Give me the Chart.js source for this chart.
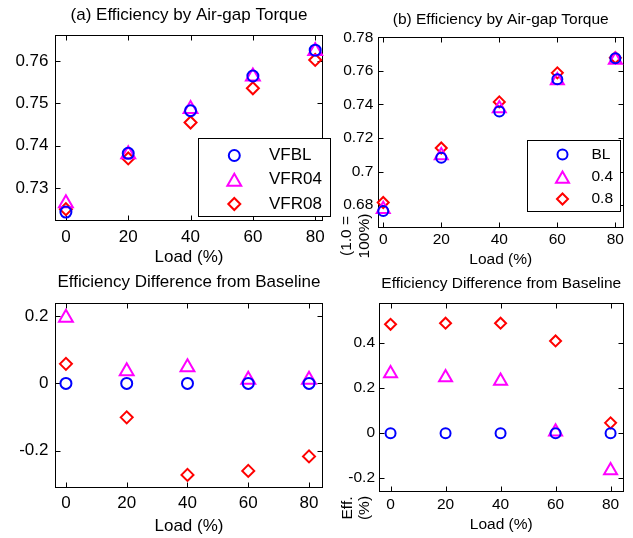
<!DOCTYPE html>
<html><head><meta charset="utf-8">
<script src="https://cdn.jsdelivr.net/npm/chart.js@4/dist/chart.umd.min.js"></script>
<style>
html,body{margin:0;padding:0;background:#fff;width:633px;height:538px;overflow:hidden}
canvas{position:absolute}
</style></head><body>
<canvas id="cA" width="333" height="270" style="left:0px;top:0px"></canvas>
<canvas id="cB" width="303" height="270" style="left:330px;top:0px"></canvas>
<canvas id="cC" width="333" height="268" style="left:0px;top:270px"></canvas>
<canvas id="cD" width="303" height="268" style="left:330px;top:270px"></canvas>
<script>
// ---- data ----
const loads = [0, 20, 40, 60, 80];
const xTicks = [0, 20, 40, 60, 80];
const xLabel = 'Load (%)';

const titleA = '(a) Efficiency by Air-gap Torque';
const namesA = ['VFBL', 'VFR04', 'VFR08'];
const effA_VFBL  = [0.7243, 0.7382, 0.7483, 0.7565, 0.7626];
const effA_VFR04 = [0.7264, 0.7380, 0.7487, 0.7564, 0.7624];
const effA_VFR08 = [0.7250, 0.7370, 0.7455, 0.7536, 0.7603];
const yTicksA = [0.73, 0.74, 0.75, 0.76];

const titleB = '(b) Efficiency by Air-gap Torque';
const namesB = ['BL', '0.4', '0.8'];
const effB_BL  = [0.6765, 0.7082, 0.7357, 0.7550, 0.7675];
const effB_04  = [0.6775, 0.7095, 0.7375, 0.7543, 0.7665];
const effB_08  = [0.6815, 0.7140, 0.7415, 0.7588, 0.7678];
const yTicksB = [0.68, 0.70, 0.72, 0.74, 0.76, 0.78];
const yLabelB = ['(1.0 =', '100%)'];

const titleC = 'Efficiency Difference from Baseline';
const diffC_VFBL  = [0, 0, 0, 0, 0];
const diffC_VFR04 = [0.195, 0.036, 0.048, 0.011, 0.011];
const diffC_VFR08 = [0.058, -0.101, -0.272, -0.260, -0.217];
const yTicksC = [-0.2, 0, 0.2];

const titleD = 'Efficiency Difference from Baseline';
const diffD_BL = [0, 0, 0, 0, 0];
const diffD_04 = [0.265, 0.248, 0.232, 0.006, -0.166];
const diffD_08 = [0.484, 0.489, 0.489, 0.410, 0.046];
const yTicksD = [-0.2, 0, 0.2, 0.4];
const yLabelD = ['Eff.', '(%)'];

const colors = ['#0000ff', '#ff00ff', '#ff0000'];
const styles = ['circle', 'triangle', 'rectRot'];

// ---- helpers ----
Chart.defaults.font.family = "'Liberation Sans', Arial, sans-serif";
Chart.defaults.color = '#000';
const fmt = v => String(parseFloat(Number(v).toFixed(4)));

function drawMarker(ctx, style, x, y, r) {
  ctx.beginPath();
  if (style === 'circle') {
    ctx.arc(x, y, r, 0, Math.PI * 2);
  } else if (style === 'triangle') {
    // keep bbox centred on y
    const cy = y + r / 4;
    for (let i = 0; i < 3; i++) {
      const a = i * 2 * Math.PI / 3;
      const px = x + Math.sin(a) * r, py = cy - Math.cos(a) * r;
      if (i === 0) ctx.moveTo(px, py); else ctx.lineTo(px, py);
    }
    ctx.closePath();
  } else {
    ctx.moveTo(x - r, y); ctx.lineTo(x, y - r); ctx.lineTo(x + r, y); ctx.lineTo(x, y + r);
    ctx.closePath();
  }
  ctx.stroke();
}

const frame = {
  id: 'frame',
  beforeDatasetsDraw(chart) {
    const {ctx, chartArea: a, scales} = chart;
    const L = Math.round(a.left) + 0.5, R = Math.round(a.right) - 0.5;
    const T = Math.round(a.top) + 0.5, B = Math.round(a.bottom) - 0.5;
    ctx.save();
    ctx.strokeStyle = '#000'; ctx.lineWidth = 1;
    ctx.strokeRect(L, T, R - L, B - T);
    const tl = 5;
    ctx.beginPath();
    scales.x.ticks.forEach(t => {
      const px = Math.round(scales.x.getPixelForValue(t.value)) + 0.5;
      ctx.moveTo(px, B); ctx.lineTo(px, B - tl);
      ctx.moveTo(px, T); ctx.lineTo(px, T + tl);
    });
    scales.y.ticks.forEach(t => {
      const py = Math.round(scales.y.getPixelForValue(t.value)) + 0.5;
      ctx.moveTo(L, py); ctx.lineTo(L + tl, py);
      ctx.moveTo(R, py); ctx.lineTo(R - tl, py);
    });
    ctx.stroke();
    ctx.restore();
  },
  afterDatasetsDraw(chart, args, opts) {
    const {ctx} = chart;
    ctx.save();
    if (opts.legend) {
      const lg = opts.legend;
      const [x0, y0, x1, y1] = lg.box;
      ctx.fillStyle = '#fff';
      ctx.fillRect(x0, y0, x1 - x0, y1 - y0);
      ctx.strokeStyle = '#000'; ctx.lineWidth = 1;
      ctx.strokeRect(Math.round(x0) + 0.5, Math.round(y0) + 0.5, Math.round(x1 - x0) - 1, Math.round(y1 - y0) - 1);
      ctx.font = lg.fs + "px 'Liberation Sans', Arial, sans-serif";
      ctx.textBaseline = 'middle'; ctx.textAlign = 'left';
      lg.names.forEach((n, i) => {
        const y = lg.rows[i];
        ctx.strokeStyle = colors[i]; ctx.lineWidth = 2;
        drawMarker(ctx, styles[i], lg.mx, y, lg.r[i]);
        ctx.fillStyle = '#000';
        ctx.fillText(n, lg.tx, y);
      });
    }
    if (opts.ylabel) {
      const yl = opts.ylabel;
      ctx.font = yl.fs + "px 'Liberation Sans', Arial, sans-serif";
      ctx.fillStyle = '#000';
      ctx.textAlign = 'center'; ctx.textBaseline = 'middle';
      yl.lines.forEach((s, i) => {
        ctx.save();
        ctx.translate(yl.xs[i], yl.y);
        ctx.rotate(-Math.PI / 2);
        ctx.fillText(s, 0, 0);
        ctx.restore();
      });
    }
    ctx.restore();
  }
};

function makeChart(id, p) {
  const datasets = p.series.map((vals, i) => ({
    label: p.names[i],
    data: loads.map((x, k) => ({x: x, y: vals[k]})),
    pointStyle: styles[i],
    pointRadius: p.r[i],
    pointBorderWidth: 2,
    borderColor: colors[i],
    backgroundColor: 'rgba(0,0,0,0)',
    showLine: false,
    clip: false
  }));
  return new Chart(document.getElementById(id), {
    type: 'scatter',
    data: {datasets},
    plugins: [frame],
    options: {
      responsive: false, animation: false, devicePixelRatio: 1, events: [],
      layout: {padding: {left: 0, right: p.padR, top: 0, bottom: 0}},
      plugins: {
        legend: {display: false}, tooltip: {enabled: false},
        title: {display: true, text: p.title, fullSize: false, color: '#000',
                font: {size: p.tfs, weight: 'normal'}, padding: {top: p.tpt, bottom: p.tpb}},
        frame: {legend: p.legend, ylabel: p.ylabel}
      },
      scales: {
        x: {
          type: 'linear', min: p.xmin, max: p.xmax,
          afterBuildTicks: s => { s.ticks = xTicks.map(v => ({value: v})); },
          afterFit: s => { s.height = p.xh; },
          grid: {display: false, drawTicks: false}, border: {display: false},
          ticks: {padding: p.xpad, color: '#000', font: {size: p.fs}, maxRotation: 0, autoSkip: false, callback: v => fmt(v)},
          title: {display: true, text: xLabel, color: '#000', font: {size: p.fs}, padding: {top: 0, bottom: p.xtpb}}
        },
        y: {
          type: 'linear', min: p.ymin, max: p.ymax,
          afterBuildTicks: s => { s.ticks = p.yTicks.map(v => ({value: v})); },
          afterFit: s => { s.width = p.yw; },
          grid: {display: false, drawTicks: false}, border: {display: false},
          ticks: {padding: p.ypad, color: '#000', font: {size: p.fs}, autoSkip: false, callback: v => fmt(v)}
        }
      }
    }
  });
}

makeChart('cA', {
  title: titleA, names: namesA, series: [effA_VFBL, effA_VFR04, effA_VFR08],
  r: [5.5, 8, 6], fs: 17, tfs: 17, tpt: 4.8, tpb: 9.8,
  padR: 9, xh: 49, yw: 55, xpad: 6, xtpb: 2.1, ypad: 6.5,
  xmin: -3.5, xmax: 82.5, ymin: 0.7222, ymax: 0.7662, yTicks: yTicksA,
  legend: {box: [197.7, 138.3, 331, 217], names: namesA, rows: [155.5, 179.8, 204], mx: 234.3, tx: 269, fs: 17, r: [5.5, 8, 6]}
});
makeChart('cB', {
  title: titleB, names: namesB, series: [effB_BL, effB_04, effB_08],
  r: [5, 7.5, 5.5], fs: 15.5, tfs: 15.5, tpt: 10, tpb: 8.7,
  padR: 9, xh: 42.3, yw: 48, xpad: 3, xtpb: 0.7, ypad: 4.7,
  xmin: -1.8, xmax: 82.8, ymin: 0.6665, ymax: 0.78, yTicks: yTicksB,
  legend: {box: [196.7, 140, 290.7, 212.3], names: namesB, rows: [154.5, 177, 199], mx: 232.5, tx: 261.5, fs: 15.5, r: [5, 7.5, 5.5]},
  ylabel: {lines: yLabelB, xs: [17, 35], y: 236, fs: 15.5}
});
makeChart('cC', {
  title: titleC, names: namesA, series: [diffC_VFBL, diffC_VFR04, diffC_VFR08],
  r: [5.5, 8, 6], fs: 17, tfs: 17, tpt: 2.1, tpb: 10.8,
  padR: 9.5, xh: 50.3, yw: 55, xpad: 5.1, xtpb: 1.1, ypad: 6.5,
  xmin: -3.6, xmax: 84.6, ymin: -0.31, ymax: 0.238, yTicks: yTicksC
});
makeChart('cD', {
  title: titleD, names: namesB, series: [diffD_BL, diffD_04, diffD_08],
  r: [5, 7.5, 5.5], fs: 15.5, tfs: 15.5, tpt: 4, tpb: 10.1,
  padR: 9, xh: 46.3, yw: 49, xpad: 4, xtpb: 3.7, ypad: 4,
  xmin: -4.2, xmax: 84.7, ymin: -0.26, ymax: 0.58, yTicks: yTicksD,
  ylabel: {lines: yLabelD, xs: [17.5, 35], y: 238, fs: 15.5}
});
</script>
</body></html>
